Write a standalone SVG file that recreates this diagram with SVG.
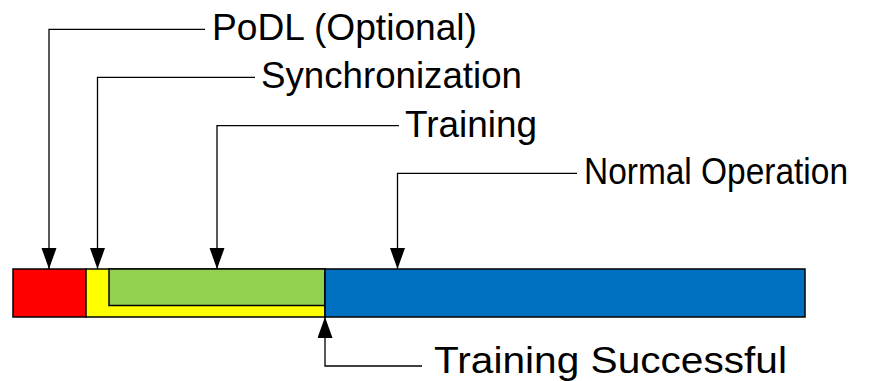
<svg xmlns="http://www.w3.org/2000/svg" width="879" height="381" viewBox="0 0 879 381">
<style>
.lbl{font-family:"Liberation Sans",Arial,sans-serif;font-size:37px;fill:#000}
.conn{fill:none;stroke:#000;stroke-width:1.3}
.seg{stroke:#000;stroke-width:1.5}
</style>
<defs>
<marker id="ah" markerUnits="userSpaceOnUse" markerWidth="22" markerHeight="16" refX="21" refY="7.5" orient="auto">
<path d="M0,0 L21,7.5 L0,15 Z" fill="#000"/>
</marker>
</defs>
<rect width="879" height="381" fill="#fff"/>
<g id="bar">
<rect id="podl" class="seg" x="13" y="269" width="73" height="48" fill="#FF0000"/>
<rect id="sync" class="seg" x="86" y="269" width="239" height="48" fill="#FFFF00"/>
<rect id="training" class="seg" x="109" y="269" width="216" height="36.5" fill="#92D050"/>
<rect id="normal" class="seg" x="325" y="269" width="480" height="48" fill="#0070C0"/>
</g>
<g id="connectors">
<path class="conn" d="M205,29.3 H49 V269" marker-end="url(#ah)"/>
<path class="conn" d="M255,77.3 H97.5 V269" marker-end="url(#ah)"/>
<path class="conn" d="M399,125.7 H217 V269" marker-end="url(#ah)"/>
<path class="conn" d="M577,173.3 H397.5 V269" marker-end="url(#ah)"/>
<path class="conn" d="M422,366 H325 V317" marker-end="url(#ah)"/>
</g>
<g id="labels">
<text id="t-podl" class="lbl" x="212" y="40" textLength="265" lengthAdjust="spacingAndGlyphs">PoDL (Optional)</text>
<text id="t-sync" class="lbl" x="261" y="88" textLength="261" lengthAdjust="spacingAndGlyphs">Synchronization</text>
<text id="t-train" class="lbl" x="405" y="136.5" textLength="132" lengthAdjust="spacingAndGlyphs">Training</text>
<text id="t-normal" class="lbl" x="584" y="184" textLength="264" lengthAdjust="spacingAndGlyphs">Normal Operation</text>
<text id="t-success" class="lbl" x="434" y="373" textLength="353" lengthAdjust="spacingAndGlyphs">Training Successful</text>
</g>
</svg>
